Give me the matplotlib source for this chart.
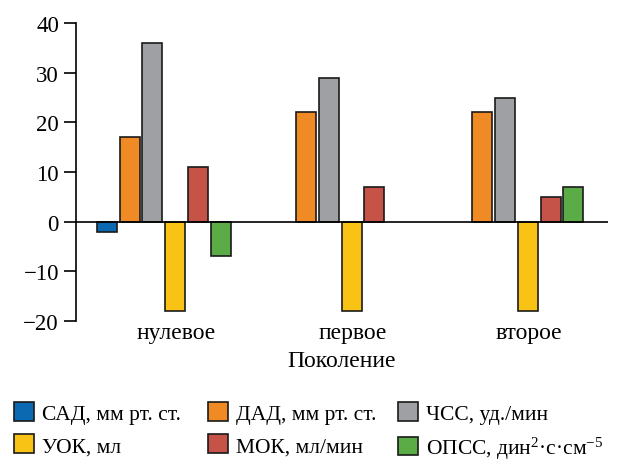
import numpy as np
import matplotlib
matplotlib.use("Agg")
import matplotlib.pyplot as plt

plt.rcParams["font.family"] = ["Liberation Serif", "DejaVu Serif"]
plt.rcParams["mathtext.fontset"] = "custom"
plt.rcParams["mathtext.rm"] = "Liberation Serif"
plt.rcParams["mathtext.it"] = "Liberation Serif"

# данные
groups = ["нулевое", "первое", "второе"]
series = ["САД, мм рт. ст.", "ДАД, мм рт. ст.", "ЧСС, уд./мин",
          "УОК, мл", "МОК, мл/мин", "ОПСС, дин$^2$·с·см$^{-5}$"]
sad = [-2, np.nan, np.nan]
dad = [17, 22, 22]
chss = [36, 29, 25]
uok = [-18, -18, -18]
mok = [11, 7, 5]
opss = [-7, np.nan, 7]
values = [sad, dad, chss, uok, mok, opss]
colors = ["#0a69b1", "#f08a25", "#9ea0a3", "#f8c314", "#c65348", "#5bab47"]

fig = plt.figure(figsize=(6.2, 4.64), dpi=100)
ax = fig.add_axes([0.122, 0.306, 0.859, 0.642])

x = np.arange(len(groups))
step = 0.129
width = 0.113
handles = []
for k, (vals, col, name) in enumerate(zip(values, colors, series)):
    b = ax.bar(x + (k - 2.5) * step, vals, width, color=col,
               edgecolor="#1a1a1a", linewidth=1.2, label=name, zorder=2)
    handles.append(b)

ax.axhline(0, color="black", linewidth=1.2, zorder=3)
ax.set_xlim(-0.5, 2.52)
ax.set_ylim(-20, 40)
ax.set_yticks([-20, -10, 0, 10, 20, 30, 40])
ax.set_yticklabels(["\u221220", "\u221210", "0", "10", "20", "30", "40"])
ax.set_xticks(x + 0.07)
ax.set_xticklabels(groups)
ax.tick_params(axis="x", length=0, pad=1, labelsize=17)
ax.tick_params(axis="y", direction="out", length=9, width=1.2, labelsize=16.5, pad=3)
for s in ["top", "right", "bottom"]:
    ax.spines[s].set_visible(False)
ax.spines["left"].set_linewidth(1.2)
ax.set_xlabel("Поколение", fontsize=17, labelpad=5)

# легенда: по столбцу на каждую пару
col_x = [14, 208, 398]
pairs = [(0, 3), (1, 4), (2, 5)]
for cx, (i, j) in zip(col_x, pairs):
    fig.legend([handles[i], handles[j]], [series[i], series[j]],
               loc="upper left", bbox_to_anchor=(cx / 620, 1 - 403 / 464),
               frameon=False, fontsize=15.5, handlelength=0.95,
               handleheight=0.95, handletextpad=0.35, labelspacing=0.5,
               borderpad=0, borderaxespad=0)

fig.savefig("out.png", dpi=100)
